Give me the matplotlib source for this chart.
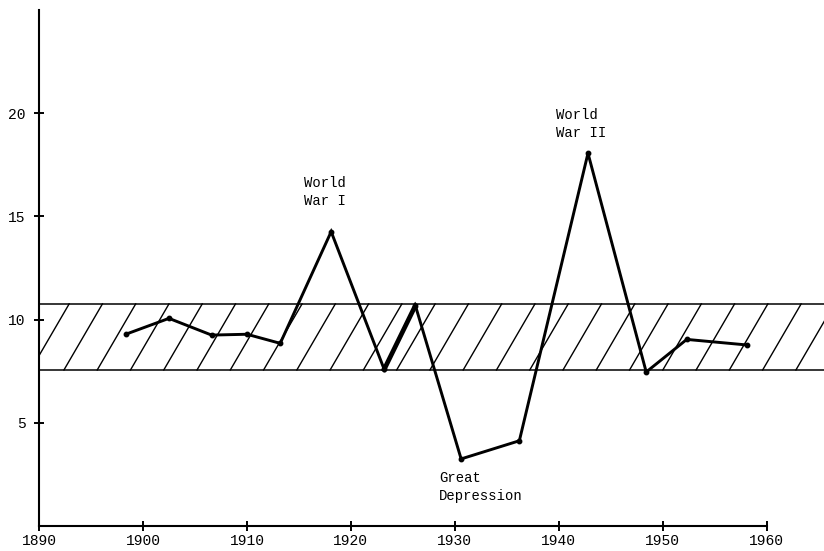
import matplotlib
matplotlib.use("Agg")
import matplotlib.pyplot as plt
import numpy as np

# values
years = [1898.4, 1902.5, 1906.6, 1910.0, 1913.2, 1918.1, 1923.2, 1926.2,
         1930.6, 1936.2, 1942.8, 1948.4, 1952.3, 1958.1]
values = [9.30, 10.06, 9.25, 9.29, 8.85, 14.26, 7.59, 10.68,
          3.25, 4.13, 18.06, 7.46, 9.04, 8.77]
band_low = 7.56
band_high = 10.76

xticks = [1890, 1900, 1910, 1920, 1930, 1940, 1950, 1960]
yticks = [5, 10, 15, 20]

notes = [("World\nWar I", 1915.5, 16.17),
         ("World\nWar II", 1939.7, 19.48),
         ("Great\nDepression", 1928.5, 1.91)]

font = "Liberation Mono"

fig = plt.figure(figsize=(8.24, 5.51), dpi=100)
ax = fig.add_axes([39 / 824, 25 / 551, 785 / 824, 516 / 551])
ax.set_xlim(1890, 1965.5)
ax.set_ylim(0, 25)

# shaded band with hand-drawn style diagonal hatching
ax.axhline(band_high, color="black", lw=1.1)
ax.axhline(band_low, color="black", lw=1.1)
spacing = 3.2
lean = 3.7
start = 1892.4 - 2 * spacing
while start < 1966:
    ax.plot([start, start + lean], [band_low, band_high], color="black", lw=1.0)
    start += spacing

# main series
ax.plot(years, values, color="black", lw=2.1, marker="o", ms=3.2,
        solid_joinstyle="miter")
# the heavy stroke after the first war
ax.plot(years[6:8], values[6:8], color="black", lw=3.4)

for txt, x, y in notes:
    ax.text(x, y, txt, family=font, fontsize=10, ha="left", va="center",
            linespacing=1.35)

for side in ["top", "right"]:
    ax.spines[side].set_visible(False)
ax.spines["left"].set_linewidth(1.5)
ax.spines["bottom"].set_linewidth(1.5)
ax.spines["bottom"].set_bounds(1890, 1960)

ax.set_xticks(xticks)
ax.set_xticklabels([str(t) for t in xticks], family=font, fontsize=10.5)
ax.set_yticks(yticks)
ax.set_yticklabels([str(t) for t in yticks], family=font, fontsize=10.5)
ax.tick_params(axis="both", direction="inout", length=7, width=1.4)
ax.tick_params(axis="y", pad=6)
ax.tick_params(axis="x", pad=2)

fig.savefig("out.png", dpi=100)
